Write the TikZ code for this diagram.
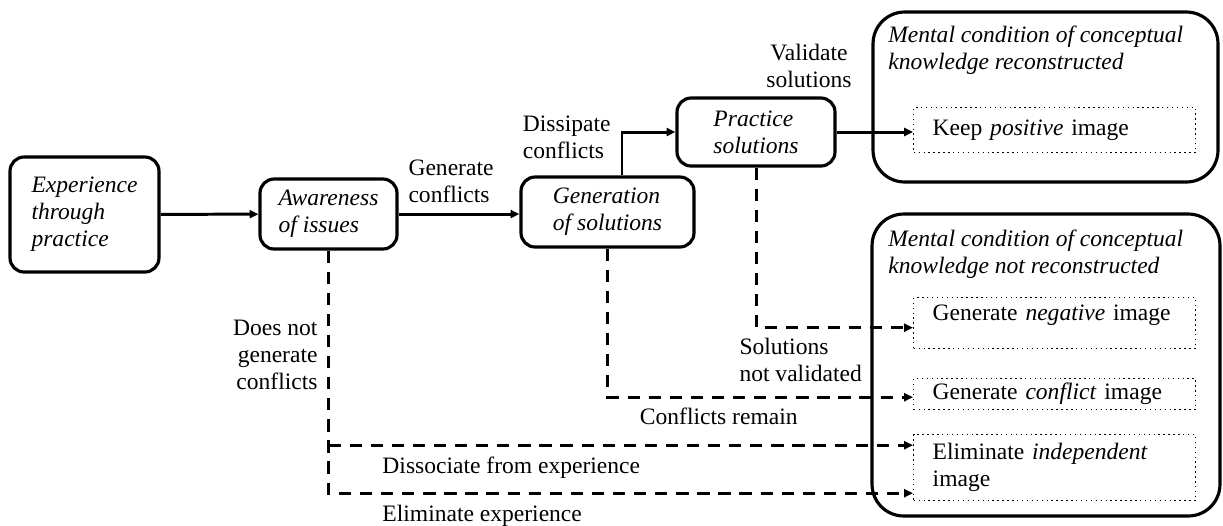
\documentclass[tikz,border=0pt]{standalone}
\usepackage{fontspec}
\setmainfont{Liberation Serif}
\usetikzlibrary{arrows.meta, positioning}
\newcommand\diafont{\fontsize{13.4}{15.4}\selectfont}

\begin{document}
\begin{tikzpicture}[
  x=0.02cm, y=-0.02cm,
  every node/.style={font=\diafont},
  stepbox/.style={draw, line width=1.8pt, rounded corners=8pt, align=left, inner sep=0pt, font=\diafont\itshape},
  statebox/.style={draw, line width=1.8pt, rounded corners=18pt, inner sep=0pt},
  imgbox/.style={draw, dotted, line width=0.8pt, anchor=north west, text width=4.88cm, inner xsep=0.38cm, inner ysep=0pt, align=left},
  title/.style={anchor=north west, inner sep=0pt, align=left, font=\diafont\itshape},
  lbl/.style={inner sep=0pt, align=left},
  flow/.style={-{Triangle[length=5pt, width=4.5pt]}, line width=1.7pt},
  weak/.style={flow, dash pattern=on 7pt off 5pt}
]
\useasboundingbox (0,0) rectangle (1223,525);

% Steps
\node[stepbox, minimum width=2.98cm, minimum height=2.30cm] (exp) at (84.5,214.5) {Experience\\through\\practice};
\node[stepbox, minimum width=2.74cm, minimum height=1.40cm] (aware) at (328.5,214) {Awareness\\of issues};
\node[stepbox, minimum width=3.46cm, minimum height=1.40cm] (gen) at (607.5,212) {Generation\\of solutions};
\node[stepbox, minimum width=3.16cm, minimum height=1.36cm] (prac) at (756,132) {Practice\\solutions};

% Mental conditions
\node[statebox, minimum width=6.90cm, minimum height=3.40cm] (okbox) at (1045.5,97) {};
\node[title] (oktitle) at (888,26) {Mental condition of conceptual\\knowledge reconstructed};
\node[statebox, minimum width=6.96cm, minimum height=6.04cm] (nobox) at (1046,365) {};
\node[title] (notitle) at (888,230) {Mental condition of conceptual\\knowledge not reconstructed};

% Images
\node[imgbox, minimum height=0.90cm] (keep) at (913,107) {Keep \emph{positive} image};
\node[imgbox, minimum height=1.02cm, text depth=0.42cm] (neg) at (913,297) {Generate \emph{negative} image};
\node[imgbox, minimum height=0.62cm] (conf) at (913,378) {Generate \emph{conflict} image};
\node[imgbox, minimum height=1.32cm] (indep) at (913,434) {Eliminate \emph{independent}\\image};

% Flow
\draw[flow] (exp) -- (aware);
\draw[flow] (aware.east) -- (aware.east -| gen.west) node[lbl, midway, above=0.2cm, xshift=-0.16cm] {Generate\\conflicts};
\draw[flow] ([xshift=0.29cm]gen.north) |- (prac.west) node[lbl, pos=0.25, left=0.2cm, yshift=0.32cm] {Dissipate\\conflicts};
\draw[flow] (prac.east) -- (prac.east -| keep.west);
\node[lbl, align=center, anchor=south] (validlbl) at (809,88) {Validate\\solutions};

% Failures
\draw[weak] (prac.south) |- ([yshift=-0.09cm]neg.west) node[lbl, pos=0.5, anchor=north west, xshift=-0.36cm, yshift=-0.18cm] {Solutions\\not validated};
\draw[weak] (gen.south) |- ([yshift=-0.06cm]conf.west) node[lbl, pos=0.5, anchor=north west, xshift=0.62cm, yshift=-0.19cm] {Conflicts remain};
\draw[weak] (aware.south) |- ([yshift=-0.51cm]indep.west) node[lbl, pos=0.5, anchor=north west, xshift=1.05cm, yshift=-0.21cm] {Eliminate experience}
  node[lbl, align=right, pos=0.25, left=0.19cm, yshift=0.34cm] {Does not\\generate\\conflicts};
\draw[weak] ([yshift=0.45cm]indep.west -| aware.south) -- ([yshift=0.45cm]indep.west) node[lbl, pos=0, anchor=north west, xshift=1.05cm, yshift=-0.21cm] {Dissociate from experience};

\end{tikzpicture}
\end{document}
